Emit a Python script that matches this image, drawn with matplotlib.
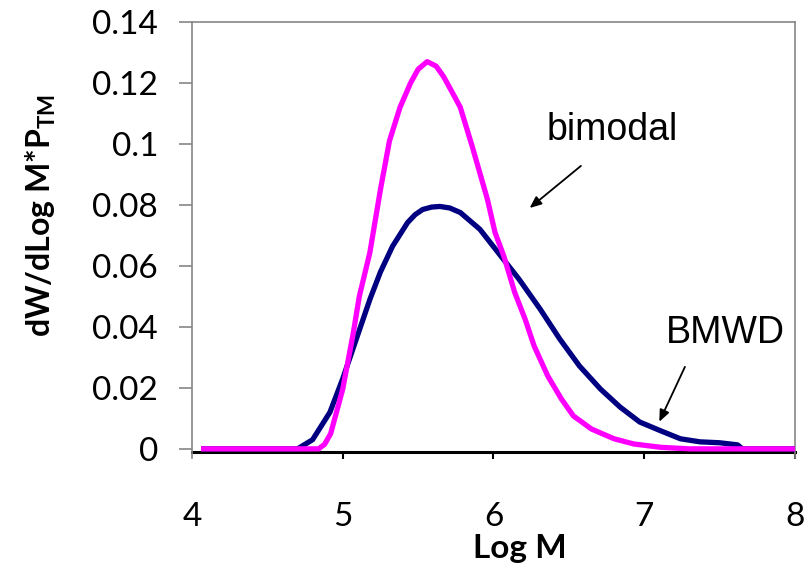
import numpy as np
import matplotlib
matplotlib.use("Agg")
import matplotlib.pyplot as plt
from matplotlib.ticker import FormatStrFormatter

plt.rcParams['font.family'] = ['Lato', 'DejaVu Sans']
plt.rcParams['mathtext.fontset'] = 'custom'
plt.rcParams['mathtext.rm'] = 'Lato'
plt.rcParams['mathtext.bf'] = 'Lato:bold'

# BMWD curve (navy)
bmwd_x = [4.06, 4.70, 4.80, 4.915, 5.00, 5.09, 5.18, 5.25, 5.33, 5.43, 5.48, 5.53, 5.59, 5.645,
          5.71, 5.78, 5.91, 6.04, 6.17, 6.31, 6.44, 6.57, 6.71, 6.84, 6.97, 7.11, 7.24,
          7.37, 7.50, 7.62, 7.65, 8.0]
bmwd_y = [0, 0, 0.003, 0.012, 0.023, 0.036, 0.049, 0.058, 0.0664, 0.0742, 0.0768, 0.0785, 0.0793, 0.0795,
          0.079, 0.0775, 0.072, 0.0638, 0.0556, 0.0458, 0.036, 0.0272, 0.0196, 0.0137, 0.0088, 0.0059, 0.0033,
          0.0023, 0.002, 0.0013, 0, 0]

# bimodal curve (magenta)
bimodal_x = [4.06, 4.84, 4.88, 4.92, 5.00, 5.07, 5.11, 5.18, 5.25, 5.31, 5.38, 5.45, 5.50, 5.56,
             5.62, 5.67, 5.72, 5.78, 5.86, 5.96, 6.01, 6.07, 6.14, 6.21, 6.27, 6.36, 6.45, 6.53,
             6.65, 6.80, 6.93, 7.11, 7.3, 8.0]
bimodal_y = [0, 0, 0.0015, 0.005, 0.0196, 0.038, 0.050, 0.0644, 0.085, 0.101, 0.112, 0.120, 0.1245, 0.127,
             0.1255, 0.122, 0.1175, 0.112, 0.099, 0.0818, 0.071, 0.063, 0.0514, 0.0425, 0.0337, 0.0239, 0.0164, 0.0108,
             0.0065, 0.0033, 0.0016, 0.0005, 0, 0]

x_ticks = [4, 5, 6, 7, 8]
y_ticks = [0, 0.02, 0.04, 0.06, 0.08, 0.1, 0.12, 0.14]

fig = plt.figure(figsize=(8.08, 5.71), dpi=100)
ax = fig.add_axes([0.2376, 0.1979, 0.7463, 0.7636])

ax.plot(bmwd_x, bmwd_y, color='#000080', lw=3.8, solid_capstyle='butt', zorder=3)
ax.plot(bimodal_x, bimodal_y, color='#FF00FF', lw=3.8, solid_capstyle='butt', zorder=4)

ax.set_xlim(4, 8)
ax.set_ylim(-0.003, 0.14)
ax.set_xticks(x_ticks)
ax.set_yticks(y_ticks)
ax.yaxis.set_major_formatter(FormatStrFormatter('%g'))

gray = '#868686'
for s in ['left', 'top', 'right']:
    ax.spines[s].set_color(gray)
    ax.spines[s].set_linewidth(1.2)
ax.spines['bottom'].set_position(('data', -0.0009))
ax.spines['bottom'].set_color('black')
ax.spines['bottom'].set_linewidth(2.2)
ax.spines['bottom'].set_zorder(2)

ax.tick_params(axis='y', direction='out', length=9.4, width=1.2, color=gray,
               labelsize=24, pad=15)
ax.tick_params(axis='x', direction='out', length=5, width=1.5, color='black',
               labelsize=24, pad=31)
ax.xaxis.get_major_ticks()[0].tick1line.set_visible(False)

ax.set_xlabel('Log M', fontsize=24, fontweight='bold')
ax.set_ylabel(r'dW/dLog M*P$_{\mathbf{TM}}$', fontsize=23, fontweight='bold')
ax.xaxis.set_label_coords(0.544, -0.175)
ax.yaxis.set_label_coords(-0.222, 0.556)

ax.text(6.786, 0.1046, 'bimodal', fontsize=27, family='Liberation Sans',
        ha='center', va='center')
ax.annotate('', xy=(6.24, 0.079), xytext=(6.58, 0.0928),
            arrowprops=dict(arrowstyle='-|>,head_length=0.7,head_width=0.3',
                            color='black', lw=1.3, shrinkA=0, shrinkB=0))
ax.text(7.535, 0.038, 'BMWD', fontsize=27, family='Liberation Sans',
        ha='center', va='center')
ax.annotate('', xy=(7.10, 0.0089), xytext=(7.27, 0.0269),
            arrowprops=dict(arrowstyle='-|>,head_length=0.7,head_width=0.3',
                            color='black', lw=1.3, shrinkA=0, shrinkB=0))

fig.savefig('out.png', dpi=100)
